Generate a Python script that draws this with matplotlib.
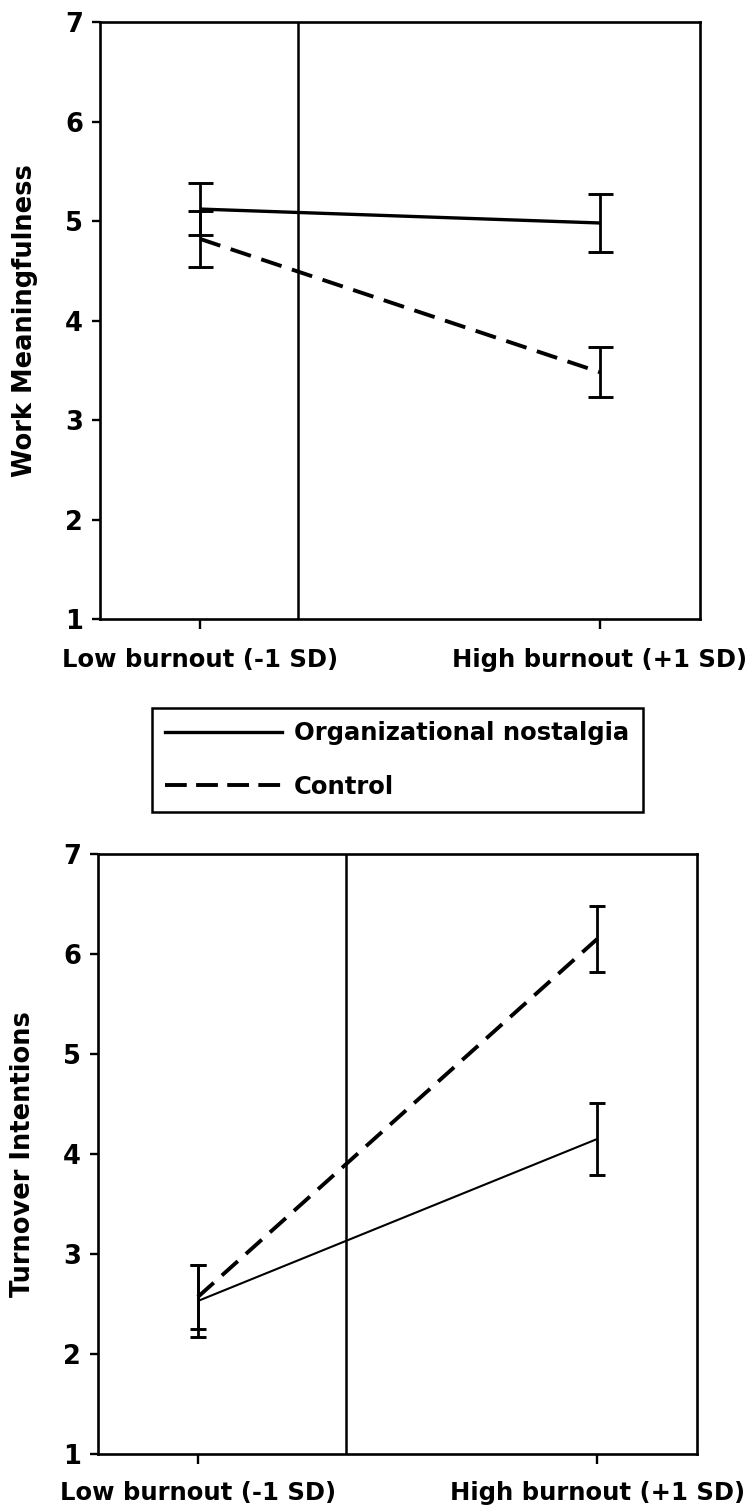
import matplotlib
matplotlib.use("Agg")
import matplotlib.pyplot as plt
from matplotlib.lines import Line2D

# burnout levels on the x axis
burnout_levels = [0, 1]
burnout_labels = ["Low burnout (-1 SD)", "High burnout (+1 SD)"]
y_ticks = [1, 2, 3, 4, 5, 6, 7]
group_names = ["Organizational nostalgia", "Control"]

# top panel: work meaningfulness
meaning_nostalgia = [5.12, 4.98]
meaning_nostalgia_err = [0.26, 0.29]
meaning_control = [4.82, 3.48]
meaning_control_err = [0.28, 0.25]
meaning_vline = 0.244

# bottom panel: turnover intentions
turnover_nostalgia = [2.53, 4.15]
turnover_nostalgia_err = [0.36, 0.36]
turnover_control = [2.57, 6.15]
turnover_control_err = [0.32, 0.33]
turnover_vline = 0.37

plt.rcParams['font.family'] = ['DejaVu Sans']
plt.rcParams['font.weight'] = 'bold'
FS = 17.5
W, H = 750, 1512
DASH = (0, (5.5, 2.8))

fig = plt.figure(figsize=(W / 100, H / 100), dpi=100)


def px_axes(left, top, right, bottom):
    return fig.add_axes([left / W, 1 - bottom / H, (right - left) / W, (bottom - top) / H])


def draw_panel(ax, nost, nost_err, ctrl, ctrl_err, vline, ylabel, solid_lw, capsize, xpad):
    ax.errorbar(burnout_levels, nost, yerr=nost_err, fmt='none', ecolor='black',
                elinewidth=2.0, capsize=capsize, capthick=2.1, zorder=3)
    ax.errorbar(burnout_levels, ctrl, yerr=ctrl_err, fmt='none', ecolor='black',
                elinewidth=2.0, capsize=capsize, capthick=2.1, zorder=3)
    ax.plot(burnout_levels, nost, color='black', lw=solid_lw, solid_capstyle='butt', zorder=4)
    ax.plot(burnout_levels, ctrl, color='black', lw=2.8, linestyle=DASH, zorder=4)
    ax.axvline(vline, color='black', lw=1.8, zorder=2)

    ax.set_xlim(-0.25, 1.25)
    ax.set_ylim(1, 7)
    ax.set_yticks(y_ticks)
    ax.set_xticks(burnout_levels)
    ax.set_xticklabels(burnout_labels, fontsize=FS, fontweight='bold')
    ax.set_yticklabels([str(v) for v in y_ticks], fontsize=18.5, fontweight='bold')
    ax.tick_params(axis='y', direction='out', length=5.8, width=1.7, pad=6.5)
    ax.tick_params(axis='x', direction='out', length=7, width=1.7, pad=xpad)
    for sp in ax.spines.values():
        sp.set_linewidth(1.9)
    ax.set_ylabel(ylabel, fontsize=18.5, fontweight='bold')
    ax.yaxis.set_label_coords(-0.103, 0.5)


ax1 = px_axes(100, 22, 700, 619)
draw_panel(ax1, meaning_nostalgia, meaning_nostalgia_err, meaning_control, meaning_control_err,
           meaning_vline, "Work Meaningfulness", 2.4, 9, 14)

ax2 = px_axes(98, 854, 697, 1454)
draw_panel(ax2, turnover_nostalgia, turnover_nostalgia_err, turnover_control, turnover_control_err,
           turnover_vline, "Turnover Intentions", 1.5, 5.5, 12.5)

handles = [Line2D([], [], color='black', lw=2.4),
           Line2D([], [], color='black', lw=2.8, linestyle=(0, (5.6, 2.4)))]
leg = fig.legend(handles, group_names, loc='upper left',
                 bbox_to_anchor=(152 / W, 1 - 708 / H), bbox_transform=fig.transFigure,
                 borderaxespad=0, fontsize=FS, frameon=True, fancybox=False,
                 handlelength=4.8, handletextpad=0.5, labelspacing=1.2, borderpad=0.55)
leg.get_frame().set_edgecolor('black')
leg.get_frame().set_linewidth(1.8)
leg.get_frame().set_alpha(1)
for t in leg.get_texts():
    t.set_fontweight('bold')

fig.savefig("out.png", dpi=100)
